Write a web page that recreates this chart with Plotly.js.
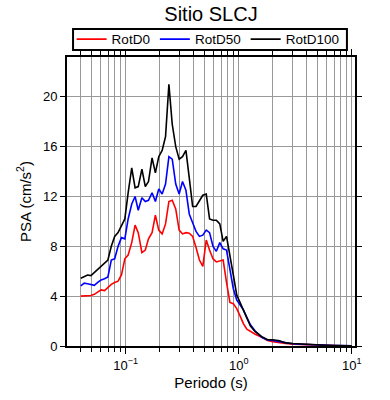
<!DOCTYPE html>
<html>
<head>
<meta charset="utf-8">
<script src="https://cdn.plot.ly/plotly-3.0.1.min.js"></script>
<style>html,body{margin:0;padding:0;background:#fff;}#chart{width:390px;height:400px;}</style>
</head>
<body>
<div id="chart"></div>
<script>
// Periods (s)
var periods = [0.040, 0.0429, 0.0459, 0.0492, 0.0527, 0.0565, 0.0605, 0.0649, 0.0695, 0.0745,
  0.0798, 0.0855, 0.0916, 0.0982, 0.105, 0.113, 0.121, 0.129, 0.139, 0.149,
  0.159, 0.171, 0.183, 0.196, 0.210, 0.225, 0.241, 0.258, 0.277, 0.297,
  0.318, 0.341, 0.365, 0.391, 0.419, 0.449, 0.481, 0.516, 0.552, 0.592,
  0.634, 0.680, 0.728, 0.780, 0.836, 0.896, 0.960, 1.03, 1.10, 1.18, 1.27,
  1.4, 1.6, 1.8, 2.0, 2.3, 2.6, 3.0, 3.5, 4.0, 5.0, 6.0, 7.0, 8.0, 9.0, 10.0];

// PSA (cm/s^2)
var rotD0 = [4.0, 4.0, 4.0, 4.05, 4.15, 4.3, 4.5, 4.45, 4.7, 4.95,
  5.1, 5.2, 5.7, 7.0, 7.3, 8.3, 9.7, 9.1, 7.5, 7.7,
  8.6, 9.1, 10.5, 9.3, 9.0, 9.8, 11.6, 11.7, 11.0, 9.3,
  9.0, 9.1, 9.05, 8.8, 7.9, 6.9, 6.4, 8.5, 7.7, 7.0,
  6.75, 6.8, 6.9, 5.1, 3.5, 3.4, 3.0, 2.4, 1.8, 1.35, 1.15,
  0.95, 0.7, 0.45, 0.35, 0.25, 0.2, 0.15, 0.12, 0.09, 0.06, 0.04, 0.03, 0.02, 0.02, 0.01];

var rotD50 = [4.82, 5.05, 5.0, 4.95, 4.87, 5.1, 5.3, 5.4, 5.55, 6.9,
  7.0, 8.0, 8.7, 8.6, 10.2, 11.4, 12.0, 10.9, 11.9, 11.6,
  11.7, 12.3, 11.6, 12.6, 12.2, 13.0, 15.2, 15.0, 13.0, 12.2,
  13.2, 12.5, 10.6, 9.9, 9.2, 8.8, 8.9, 9.3, 9.1, 8.0,
  7.6, 8.3, 7.8, 7.7, 6.1, 4.6, 3.7, 3.3, 2.9, 2.3, 1.7,
  1.2, 0.7, 0.48, 0.45, 0.35, 0.25, 0.18, 0.14, 0.11, 0.07, 0.05, 0.04, 0.03, 0.02, 0.02];

var rotD100 = [5.44, 5.56, 5.7, 5.65, 5.9, 6.1, 6.4, 6.6, 6.9, 8.0,
  8.8, 9.1, 9.6, 10.2, 12.3, 14.3, 12.7, 12.8, 14.2, 12.8,
  13.2, 15.1, 13.9, 15.2, 15.7, 16.8, 21.0, 17.8, 16.0, 15.0,
  15.2, 15.7, 13.5, 11.2, 11.2, 11.6, 12.1, 12.2, 10.2, 10.1,
  10.1, 9.8, 8.4, 8.8, 7.4, 5.7, 4.1, 3.5, 2.8, 2.2, 1.6,
  1.15, 0.75, 0.5, 0.5, 0.42, 0.25, 0.2, 0.16, 0.12, 0.08, 0.06, 0.04, 0.03, 0.03, 0.02];

var seriesNames = ['RotD0', 'RotD50', 'RotD100'];
var seriesColors = ['#ff0000', '#0000ff', '#000000'];
var seriesValues = [rotD0, rotD50, rotD100];

var xMajorVals = [0.1, 1, 10];
var xMajorText = ['10<sup>\u22121</sup>', '10<sup>0</sup>', '10<sup>1</sup>'];
var xMinorVals = [0.03, 0.04, 0.05, 0.06, 0.07, 0.08, 0.09, 0.2, 0.3, 0.4, 0.5, 0.6, 0.7, 0.8, 0.9,
  2, 3, 4, 5, 6, 7, 8, 9];
var yTickVals = [0, 4, 8, 12, 16, 20];

var traces = seriesNames.map(function (n, i) {
  return {
    x: periods, y: seriesValues[i], name: n, type: 'scatter', mode: 'lines',
    line: {color: seriesColors[i], width: 1.6}
  };
});

var ff = '"Liberation Sans", Arial, sans-serif';

var layout = {
  width: 390, height: 400,
  margin: {l: 67, r: 35, t: 57, b: 54, pad: 0},
  paper_bgcolor: '#fff', plot_bgcolor: '#fff',
  font: {family: ff, size: 13, color: '#000'},
  title: {text: 'Sitio SLCJ', font: {family: ff, size: 20, color: '#000'},
    x: 0.5, xref: 'paper', xanchor: 'center', y: 0.965, yref: 'container', yanchor: 'middle'},
  showlegend: true,
  legend: {orientation: 'h', x: 0.49, xanchor: 'center', y: 1.061, yanchor: 'middle',
    borderwidth: 0, bgcolor: 'rgba(0,0,0,0)',
    font: {family: ff, size: 13.5, color: '#000'}, traceorder: 'normal'},
  shapes: [{type: 'rect', xref: 'paper', yref: 'paper', x0: 0.021, x1: 0.972, y0: 1.0242, y1: 1.0969,
    line: {color: '#000', width: 2}, fillcolor: 'rgba(0,0,0,0)', layer: 'above'}],
  xaxis: {
    type: 'log', range: [Math.log10(0.0302), Math.log10(10.7)],
    tickmode: 'array', tickvals: xMajorVals, ticktext: xMajorText,
    ticks: 'outside', ticklen: 6, tickwidth: 1, tickcolor: '#000',
    showline: true, linecolor: '#000', linewidth: 2, mirror: 'allticks',
    showgrid: true, gridcolor: '#999', gridwidth: 1,
    minor: {tickmode: 'array', tickvals: xMinorVals, ticks: 'outside', ticklen: 4, tickcolor: '#000',
      showgrid: true, gridcolor: '#999', gridwidth: 1},
    tickfont: {family: ff, size: 13, color: '#000'},
    title: {text: 'Periodo (s)', font: {family: ff, size: 15, color: '#000'}, standoff: 6},
    zeroline: false
  },
  yaxis: {
    range: [0, 23.2], tickmode: 'array', tickvals: yTickVals,
    ticks: 'outside', ticklen: 5, tickwidth: 1, tickcolor: '#000',
    showline: true, linecolor: '#000', linewidth: 2, mirror: 'allticks',
    showgrid: true, gridcolor: '#999', gridwidth: 1,
    tickfont: {family: ff, size: 13, color: '#000'},
    title: {text: 'PSA (cm/s<sup>2</sup>)', font: {family: ff, size: 15, color: '#000'}, standoff: 8},
    zeroline: false
  }
};

Plotly.newPlot('chart', traces, layout, {staticPlot: true, displayModeBar: false});
</script>
</body>
</html>
